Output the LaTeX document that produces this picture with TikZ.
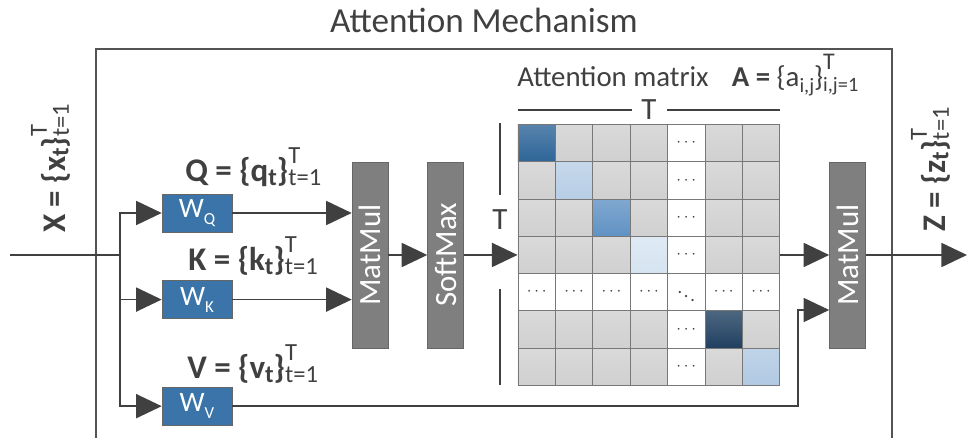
\documentclass[tikz,border=0pt]{standalone}
\usepackage{fontspec}
\setmainfont{Carlito}
\usetikzlibrary{arrows.meta, positioning, shapes}
\definecolor{attline}{RGB}{64,64,64}
\definecolor{attblue}{RGB}{58,116,168}
\definecolor{attgray}{RGB}{127,127,127}
\definecolor{attcell}{RGB}{208,208,208}
\definecolor{attgrid}{RGB}{120,120,120}
\definecolor{attd1}{RGB}{46,101,152}
\definecolor{attd2}{RGB}{183,206,230}
\definecolor{attd3}{RGB}{96,146,196}
\definecolor{attd4}{RGB}{214,228,241}
\definecolor{attd5}{RGB}{255,255,255}
\definecolor{attd6}{RGB}{32,64,96}
\definecolor{attd7}{RGB}{176,201,226}

\newcommand{\seqrange}[2]{\makebox[0pt][l]{\raisebox{0.55em}{\fontsize{17.5}{17.5}\selectfont\mdseries #1}}\raisebox{-0.12em}{\fontsize{17.5}{17.5}\selectfont\mdseries #2}}
\newcommand{\seqset}[2]{{\bfseries #1 = \{#2\raisebox{-0.1em}{\fontsize{17.5}{17.5}\selectfont t}\}}\seqrange{T}{t=1}}

\begin{document}
\begin{tikzpicture}[x=0.025cm, y=-0.025cm, font=\fontsize{22}{24}\selectfont, text=attline]
\tikzstyle{weight} = [rectangle, minimum width=1.75cm, minimum height=0.95cm, inner sep=0pt, draw=attline!80, fill=attblue, text=white, font=\fontsize{20}{20}\selectfont]
\tikzstyle{op} = [rectangle, minimum width=0.9cm, minimum height=4.65cm, inner sep=0pt, draw=attline!80, fill=attgray, text=white, font=\fontsize{22}{22}\selectfont]
\tikzstyle{cell} = [rectangle, minimum width=0.935cm, minimum height=0.932cm, inner sep=0pt, draw=attgrid, line width=0.6pt, font=\fontsize{13}{13}\selectfont]
\tikzstyle{arrow} = [line width=1.3pt, draw=attline, -{Triangle[length=0.64cm, width=0.6cm]}]
\tikzstyle{wire} = [line width=1.3pt, draw=attline]
\tikzstyle{setlabel} = [anchor=base west, inner sep=0pt, font=\fontsize{23.5}{26}\selectfont]

\useasboundingbox (0,0) rectangle (969,438);

% frame and title
\draw[line width=1.2pt, draw=attline!90] (96,438) |- (892,49) -- (892,438);
\node (title) [anchor=base, font=\fontsize{25}{28}\selectfont] at (484,33) {Attention Mechanism};

% projections
\node (wq) [weight] at (197,213) {W\raisebox{-0.25em}{\fontsize{12}{12}\selectfont Q}};
\node (wk) [weight, below=1.2cm of wq] {W\raisebox{-0.25em}{\fontsize{12}{12}\selectfont K}};
\node (wv) [weight, below=1.7cm of wk] {W\raisebox{-0.25em}{\fontsize{12}{12}\selectfont V}};

\node (qlabel) [setlabel] at (185,182) {\seqset{Q}{q}};
\node (klabel) [setlabel] at (188,271) {\seqset{K}{k}};
\node (vlabel) [setlabel] at (187,379) {\seqset{V}{v}};
\node (xlabel) [setlabel, rotate=90] at (65,233) {\seqset{X}{x}};
\node (zlabel) [setlabel, rotate=90] at (945,232) {\seqset{Z}{z}};

% operations
\node (mmqk) [op] at (370,255) {\rotatebox{90}{MatMul}};
\node (smax) [op, right=0.975cm of mmqk] {\rotatebox{90}{SoftMax}};
\node (mmz) [op] at (847.5,255) {\rotatebox{90}{MatMul}};

% attention matrix
\foreach \row in {1,...,7} {
  \foreach \col in {1,...,7} {
    \ifnum\row=\col \def\cellfill{attd\row}\else\ifnum\row=5 \def\cellfill{attd5}\else\ifnum\col=5 \def\cellfill{attd5}\else\def\cellfill{attcell}\fi\fi\fi
    \ifnum\row=5 \ifnum\col=5 \def\celltext{$\ddots$}\else\def\celltext{$\cdots$}\fi\else\ifnum\col=5 \def\celltext{$\cdots$}\else\def\celltext{}\fi\fi
    \node (c-\row-\col) [cell, top color=\cellfill!80!white, bottom color=\cellfill] at ({518+(\col-0.5)*37.4}, {124.4+(\row-0.5)*37.3}) {\celltext};
  }
}
\node (alabel) [anchor=base west, inner sep=0pt, font=\fontsize{20.5}{23}\selectfont] at (517,87) {Attention matrix\hspace{0.8em}\textbf{A =} \{a\raisebox{-0.2em}{\fontsize{14.5}{14.5}\selectfont i,j}\}\makebox[0pt][l]{\raisebox{0.6em}{\fontsize{17}{17}\selectfont T}}\raisebox{-0.15em}{\fontsize{14.5}{14.5}\selectfont i,j=1}};

\node (ttop) [inner sep=0pt] at (649,110) {T};
\draw[wire] (518,110) -- (632,110);
\draw[wire] (667,110) -- (780,110);
\node (tside) [inner sep=0pt] at (500,220) {T};
\draw[wire] (500,123) -- (500,195);
\draw[wire] (500,289) -- (500,385);

% connectors
\coordinate (xin) at (10,255);
\coordinate (split) at (120,255);
\draw[wire] (xin) -- (split);
\draw[arrow] (split) |- (wq.west);
\draw[arrow] (split) |- (wk.west);
\draw[arrow] (split) |- (wv.west);
\draw[arrow] (wq.east) -- (wq.east -| mmqk.west);
\draw[arrow] (wk.east) -- (wk.east -| mmqk.west);
\draw[arrow] (mmqk) -- (smax);
\draw[arrow] (smax) -- (c-4-1);
\draw[arrow] (c-4-7) -- (mmz);
\coordinate (vturn) at (798,310);
\draw[arrow] (wv.east) -| (vturn) -- (vturn -| mmz.west);
\coordinate (zout) at (967,255);
\draw[arrow] (mmz) -- (zout);
\end{tikzpicture}
\end{document}
